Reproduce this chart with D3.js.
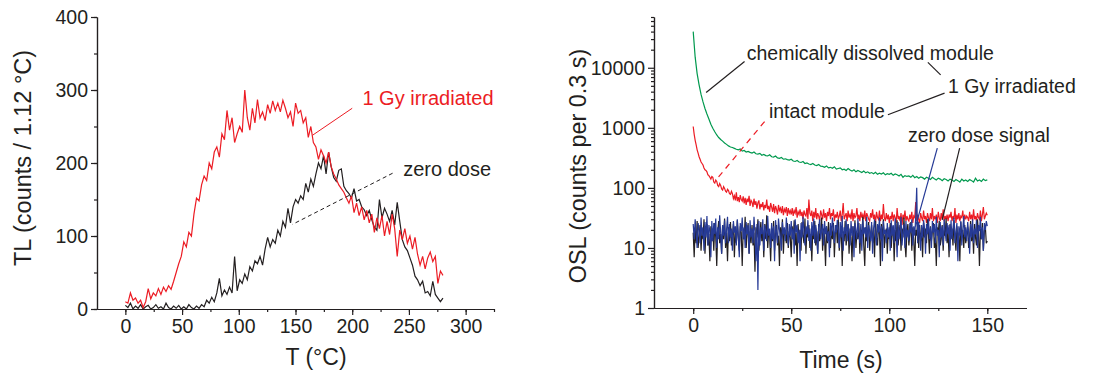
<!DOCTYPE html>
<html>
<head>
<meta charset="utf-8">
<script src="https://cdn.jsdelivr.net/npm/d3@7"></script>
<style>
    body { margin: 0; background: #fff; }
    svg text { font-family: "Liberation Sans", Arial, sans-serif; fill: #231f20; }
    .axis path, .axis line { stroke: #231f20; stroke-width: 1.2px; }
</style>
</head>
<body>
<div id="chart"></div>
<script>
// ---- TL panel (left): one point every 2 channels, channel = 1.12 degC
const tlStart = 0;
const tlStep = 2.24;
const tlIrradiated = [
    10, 8, 22, 12, 15, 8, 12, 2, 10, 28,
    14, 22, 18, 28, 20, 30, 24, 32, 27, 38,
    50, 62, 72, 92, 85, 105, 100, 130, 152, 148,
    170, 182, 176, 200, 192, 215, 222, 208, 240, 232,
    272, 245, 262, 228, 240, 250, 242, 300, 262, 245,
    275, 255, 287, 262, 270, 258, 280, 268, 285, 272,
    282, 270, 286, 275, 262, 270, 250, 282, 268, 272,
    255, 262, 235, 250, 228, 222, 205, 218, 210, 200,
    215, 195, 185, 178, 170, 165, 160, 152, 145, 155,
    132, 145, 128, 140, 122, 135, 118, 130, 105, 125,
    110, 128, 100, 120, 102, 130, 110, 72, 108, 95,
    110, 90, 100, 82, 98, 75, 60, 72, 55, 70,
    78, 65, 72, 35, 52, 46
];
const tlZeroDose = [
    5, 2, 8, 0, 4, 1, 6, 0, 3, 5,
    0, 2, 6, 1, 3, 0, 8, 2, 0, 4,
    1, 5, 0, 3, 0, 6, 2, 0, 4, 1,
    6, 3, 12, 8, 16, 10, 22, 42, 18, 26,
    20, 30, 22, 72, 25, 40, 35, 48, 40, 58,
    52, 66, 62, 72, 60, 82, 98, 85, 95, 90,
    108, 100, 120, 112, 138, 118, 140, 150, 145, 155,
    150, 172, 160, 178, 168, 185, 200, 192, 210, 185,
    215, 195, 180, 175, 190, 192, 168, 162, 158, 152,
    165, 148, 150, 140, 136, 128, 135, 122, 112, 108,
    150, 125, 138, 130, 120, 135, 115, 146, 120, 95,
    85, 80, 70, 60, 45, 40, 32, 38, 22, 24,
    18, 38, 20, 15, 10, 15
];
const tlXTicks = [0, 50, 100, 150, 200, 250, 300];
const tlYTicks = [0, 100, 200, 300, 400];

// ---- OSL panel (right)
const oslStart = 0;
const greenStep = 1;     // dissolved module, one point per second
const noisyStep = 0.5;   // intact module and zero dose, two points per second
const oslDissolved = [
    40000, 15000, 8000, 5200, 3600, 2700, 2100, 1700, 1400, 1150,
    980, 860, 760, 690, 640, 600, 560, 530, 500, 480,
    470, 455, 440, 430, 445, 410, 420, 395, 405, 390,
    380, 395, 370, 365, 375, 350, 360, 345, 340, 355,
    330, 325, 340, 315, 310, 320, 300, 305, 295, 290,
    300, 280, 275, 285, 270, 265, 275, 255, 260, 250,
    245, 255, 240, 235, 245, 230, 228, 220, 232, 215,
    220, 212, 225, 205, 210, 215, 200, 205, 195, 210,
    198, 190, 200, 185, 195, 188, 180, 190, 178, 185,
    175, 180, 172, 182, 168, 175, 170, 178, 165, 172,
    168, 175, 162, 170, 165, 158, 168, 150, 160, 155,
    158, 150, 162, 148, 155, 145, 152, 148, 140, 150,
    145, 138, 150, 142, 135, 145, 140, 132, 142, 138,
    130, 140, 135, 128, 138, 132, 125, 140, 130, 135,
    128, 138, 132, 125, 145, 130, 135, 128, 140, 132, 136
];
const oslIntact = [
    1050, 780, 620, 520, 430, 380, 330, 300, 270, 255, 240, 215, 200, 195, 185, 165, 160, 150, 140, 155,
    150, 125, 120, 135, 128, 110, 105, 118, 110, 96, 92, 105, 98, 88, 85, 95, 90, 80, 78, 88,
    80, 66, 74, 62, 84, 60, 70, 58, 76, 64, 60, 72, 55, 68, 52, 66, 58, 74, 50, 62,
    58, 48, 66, 52, 60, 45, 56, 62, 44, 54, 48, 58, 42, 52, 46, 64, 44, 50, 40, 56,
    48, 40, 54, 38, 50, 44, 36, 52, 42, 46, 38, 50, 35, 44, 40, 48, 34, 46, 38, 42,
    36, 46, 34, 42, 38, 48, 32, 40, 36, 44, 34, 40, 30, 42, 36, 34, 46, 30, 64, 38,
    34, 42, 28, 40, 32, 46, 30, 38, 34, 28, 42, 36, 30, 44, 32, 38, 28, 40, 34, 46,
    30, 38, 34, 44, 28, 36, 32, 40, 30, 34, 42, 28, 36, 56, 30, 34, 38, 28, 42, 32,
    36, 30, 44, 28, 38, 32, 34, 46, 30, 36, 28, 40, 32, 36, 30, 42, 28, 38, 34, 30,
    28, 38, 32, 44, 30, 36, 26, 40, 32, 30, 42, 28, 36, 30, 54, 32, 28, 38, 30, 36,
    26, 34, 30, 40, 28, 36, 32, 26, 46, 30, 34, 28, 38, 24, 36, 30, 42, 28, 34, 30,
    28, 36, 30, 40, 26, 34, 32, 58, 28, 36, 30, 26, 38, 32, 28, 42, 30, 34, 26, 38,
    32, 28, 38, 30, 46, 28, 34, 30, 36, 26, 40, 32, 28, 38, 30, 44, 28, 34, 30, 36,
    28, 36, 32, 40, 28, 34, 30, 46, 26, 36, 30, 38, 28, 34, 32, 42, 28, 36, 30, 34,
    32, 28, 40, 30, 36, 28, 44, 30, 34, 28, 38, 32, 30, 42, 28, 36, 48, 30, 34, 38,
    35
];
const oslZeroBlack = [
    18, 7, 22, 12, 28, 10, 16, 24, 9, 20, 14, 30, 8, 19, 25, 11, 17, 6, 23, 13,
    21, 9, 26, 15, 5, 19, 28, 12, 17, 8, 24, 14, 31, 10, 18, 6, 22, 13, 27, 11,
    16, 25, 7, 20, 12, 29, 15, 9, 23, 18, 5, 21, 14, 33, 10, 17, 26, 8, 19, 12,
    24, 11, 18, 4, 22, 15, 30, 9, 17, 27, 13, 20, 7, 25, 14, 35, 10, 19, 16, 6,
    21, 13, 28, 9, 18, 24, 11, 16, 5, 22, 14, 30, 8, 20, 17, 12, 26, 10, 19, 15,
    7, 23, 14, 29, 11, 18, 5, 25, 13, 20, 9, 27, 16, 12, 31, 8, 21, 15, 24, 10,
    17, 6, 22, 14, 28, 11, 19, 8, 25, 13, 18, 32, 9, 21, 15, 5, 23, 12, 27, 16,
    10, 20, 14, 26, 7, 18, 24, 12, 30, 9, 16, 22, 5, 19, 13, 28, 11, 17, 25, 8,
    21, 15, 6, 23, 12, 29, 10, 18, 14, 26, 8, 20, 16, 33, 11, 5, 22, 13, 19, 27,
    9, 17, 24, 12, 20, 7, 28, 15, 11, 22, 18, 5, 25, 13, 30, 10, 16, 21, 8, 19,
    14, 26, 10, 18, 23, 6, 20, 13, 29, 11, 17, 24, 9, 21, 15, 32, 12, 7, 19, 25,
    11, 18, 27, 9, 22, 14, 5, 20, 16, 28, 10, 24, 13, 19, 7, 26, 15, 21, 12, 30,
    17, 8, 23, 13, 19, 26, 10, 15, 5, 22, 18, 28, 11, 14, 24, 9, 20, 16, 31, 12,
    19, 7, 25, 14, 21, 11, 29, 16, 9, 23, 13, 18, 6, 27, 15, 20, 10, 24, 12, 17,
    22, 10, 16, 28, 13, 20, 8, 25, 15, 11, 30, 18, 5, 21, 14, 26, 9, 19, 23, 12,
    13
];
const oslZeroBlue = [
    25, 14, 30, 18, 10, 26, 20, 12, 32, 16, 22, 9, 27, 15, 34, 11, 24, 19, 7, 28,
    13, 26, 17, 31, 10, 22, 14, 35, 18, 8, 24, 16, 29, 12, 20, 33, 12, 25, 15, 21,
    9, 28, 18, 23, 11, 30, 16, 7, 26, 19, 32, 14, 22, 10, 27, 17, 24, 8, 29, 15,
    21, 12, 33, 18, 6, 25, 2, 28, 11, 22, 17, 30, 9, 24, 19, 13, 34, 16, 21, 10,
    26, 14, 23, 6, 29, 18, 12, 31, 20, 15, 9, 27, 17, 22, 13, 32, 19, 11, 25, 16,
    28, 14, 21, 8, 30, 18, 24, 12, 20, 6, 26, 15, 33, 19, 11, 23, 17, 29, 13, 21,
    9, 27, 16, 31, 12, 24, 18, 8, 22, 30, 14, 20, 25, 11, 28, 17, 23, 13, 19, 7,
    26, 16, 32, 21, 12, 24, 18, 29, 20, 10, 27, 15, 34, 9, 22, 17, 30, 13, 25, 19,
    11, 28, 16, 23, 7, 26, 20, 14, 31, 18, 12, 25, 9, 29, 17, 22, 15, 33, 10, 24,
    19, 13, 27, 8, 21, 30, 16, 11, 25, 18, 32, 14, 23, 6, 28, 17, 20, 12, 26, 15,
    22, 9, 29, 16, 24, 12, 31, 19, 7, 27, 14, 21, 33, 11, 18, 25, 10, 28, 15, 20,
    13, 26, 18, 30, 11, 23, 16, 34, 100, 12, 27, 19, 9, 24, 15, 29, 21, 8, 25, 17,
    31, 14, 22, 10, 28, 18, 25, 12, 33, 16, 20, 7, 27, 15, 23, 11, 30, 19, 13, 26,
    17, 24, 9, 29, 14, 21, 32, 12, 19, 26, 6, 23, 16, 28, 11, 20, 34, 15, 22, 13,
    27, 18, 8, 25, 15, 30, 12, 21, 17, 29, 10, 24, 19, 33, 14, 22, 9, 26, 20, 28,
    23
];
const oslXTicks = [0, 50, 100, 150];
const oslYTicks = [1, 10, 100, 1000, 10000];

const RED = "#ec1c24";
const BLACK = "#231f20";
const GREEN = "#00994e";
const BLUE = "#263a96";

function toPoints(values, start, step) {
    let pts = [];
    for (let i = 0; i < values.length; i++) {
        pts.push([start + i * step, values[i]]);
    }
    return pts;
}

function init() {
    const w = 1116;
    const h = 378;

    var svg = d3.select("#chart")
        .append("svg")
        .attr("width", w)
        .attr("height", h);

    // ---------- left: TL ----------
    var x1 = d3.scaleLinear().domain([-25, 325]).range([97, 494]);
    var y1 = d3.scaleLinear().domain([0, 400]).range([309, 17]);

    drawAxes(svg, x1, y1, {
        xTicks: tlXTicks,
        xMinor: d3.range(0, 326, 25),
        yTicks: tlYTicks,
        yMinor: d3.range(0, 401, 50)
    });

    var line1 = d3.line().x(d => x1(d[0])).y(d => y1(d[1]));

    svg.append("path")
        .datum(toPoints(tlZeroDose, tlStart, tlStep))
        .attr("d", line1)
        .attr("fill", "none")
        .attr("stroke", BLACK)
        .attr("stroke-width", 1.2);

    svg.append("path")
        .datum(toPoints(tlIrradiated, tlStart, tlStep))
        .attr("d", line1)
        .attr("fill", "none")
        .attr("stroke", RED)
        .attr("stroke-width", 1.2);

    // annotations (data coords)
    svg.append("line")
        .attr("x1", x1(200)).attr("y1", y1(275))
        .attr("x2", x1(165)).attr("y2", y1(238))
        .attr("stroke", RED).attr("stroke-width", 1);
    svg.append("text")
        .attr("x", x1(209)).attr("y", y1(279))
        .attr("font-size", 20)
        .style("fill", RED)
        .text("1 Gy irradiated");

    svg.append("line")
        .attr("x1", x1(235.6)).attr("y1", y1(186))
        .attr("x2", x1(147.4)).attr("y2", y1(116))
        .attr("stroke", BLACK).attr("stroke-width", 1)
        .attr("stroke-dasharray", "4,3");
    svg.append("text")
        .attr("x", x1(245)).attr("y", y1(182))
        .attr("font-size", 20)
        .text("zero dose");

    svg.append("text")
        .attr("transform", "translate(31,158) rotate(-90)")
        .attr("text-anchor", "middle")
        .attr("font-size", 23.5)
        .text("TL (counts / 1.12 °C)");
    svg.append("text")
        .attr("x", 316).attr("y", 365)
        .attr("text-anchor", "middle")
        .attr("font-size", 23)
        .text("T (°C)");

    // ---------- right: OSL ----------
    var x2 = d3.scaleLinear().domain([-20, 170]).range([654, 1026.5]);
    var y2 = d3.scaleLog().domain([1, 70000]).range([308, 17]);

    let logMinor = [];
    for (let e = 0; e < 5; e++) {
        for (let m = 2; m <= 9; m++) {
            let v = m * Math.pow(10, e);
            if (v <= 70000) logMinor.push(v);
        }
    }

    drawAxes(svg, x2, y2, {
        xTicks: oslXTicks,
        xMinor: d3.range(0, 170, 25),
        yTicks: oslYTicks,
        yMinor: logMinor
    });

    var line2 = d3.line().x(d => x2(d[0])).y(d => y2(d[1]));

    [[oslDissolved, greenStep, GREEN], [oslIntact, noisyStep, RED],
     [oslZeroBlack, noisyStep, BLACK], [oslZeroBlue, noisyStep, BLUE]]
        .forEach(function (s) {
            svg.append("path")
                .datum(toPoints(s[0], oslStart, s[1]))
                .attr("d", line2)
                .attr("fill", "none")
                .attr("stroke", s[2])
                .attr("stroke-width", 1.2);
        });

    // annotations
    function seg(ax, ay, bx, by, col, dash) {
        var l = svg.append("line")
            .attr("x1", x2(ax)).attr("y1", y2(ay))
            .attr("x2", x2(bx)).attr("y2", y2(by))
            .attr("stroke", col).attr("stroke-width", 1.2);
        if (dash) l.attr("stroke-dasharray", dash);
    }
    function label(tx, ty, str) {
        svg.append("text")
            .attr("x", x2(tx)).attr("y", y2(ty))
            .attr("font-size", 19.5)
            .text(str);
    }

    seg(26.2, 12700, 6.6, 3880, BLACK);
    label(27.3, 13600, "chemically dissolved module");
    seg(119.7, 12300, 126.2, 7600, BLACK);
    label(129.9, 3780, "1 Gy irradiated");
    seg(128.2, 3780, 99.3, 1650, BLACK);
    label(38.6, 1450, "intact module");
    seg(36.4, 1270, 11.7, 136, RED, "6,5");
    label(109.5, 590, "zero dose signal");
    seg(124.5, 458, 113.4, 22.6, BLUE);
    seg(135.9, 458, 127, 29.3, BLACK);

    svg.append("text")
        .attr("transform", "translate(586,166) rotate(-90)")
        .attr("text-anchor", "middle")
        .attr("font-size", 23.4)
        .text("OSL (counts per 0.3 s)");
    svg.append("text")
        .attr("x", 841).attr("y", 368)
        .attr("text-anchor", "middle")
        .attr("font-size", 23)
        .text("Time (s)");
}

function drawAxes(svg, x, y, o) {
    const x0 = y.range()[0];
    const yx = x.range()[0];

    svg.append("g")
        .attr("class", "axis")
        .attr("transform", "translate(0," + x0 + ")")
        .call(d3.axisBottom(x).tickValues(o.xMinor).tickSize(3).tickFormat("").tickSizeOuter(0));
    var gx = svg.append("g")
        .attr("class", "axis")
        .attr("transform", "translate(0," + x0 + ")")
        .call(d3.axisBottom(x).tickValues(o.xTicks).tickSize(6).tickPadding(4).tickSizeOuter(0));
    gx.selectAll("text").attr("font-size", 19.5);

    svg.append("g")
        .attr("class", "axis")
        .attr("transform", "translate(" + yx + ",0)")
        .call(d3.axisLeft(y).tickValues(o.yMinor).tickSize(3).tickFormat("").tickSizeOuter(0));
    var gy = svg.append("g")
        .attr("class", "axis")
        .attr("transform", "translate(" + yx + ",0)")
        .call(d3.axisLeft(y).tickValues(o.yTicks).tickSize(6).tickPadding(3).tickFormat(d3.format("d")).tickSizeOuter(0));
    gy.selectAll("text").attr("font-size", 19.5);
}

window.onload = init;
</script>
</body>
</html>
